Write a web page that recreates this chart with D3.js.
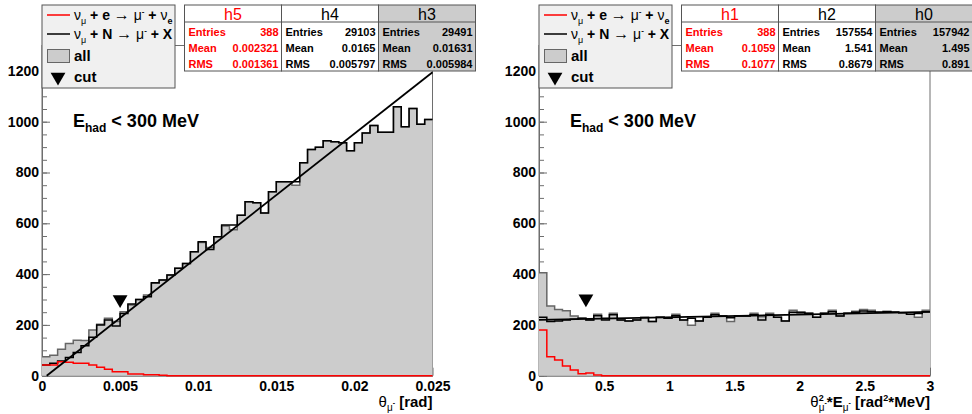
<!DOCTYPE html>
<html>
<head>
<meta charset="utf-8">
<script src="https://cdn.jsdelivr.net/npm/d3@7"></script>
<style>
  body { margin: 0; background: #fff; }
  svg { font-family: "Liberation Sans", Arial, Helvetica, sans-serif; }
</style>
</head>
<body>
<div id="chart"></div>
<script>
// ---- left pad: theta_mu [rad], 50 bins from 0 to 0.025
var thetaRange = [0, 0.025];
var thetaAll = [75, 81, 104, 127, 140, 139, 180, 203, 226, 213,
                252, 278, 300, 318, 364, 377, 396, 423, 442, 488,
                524, 505, 547, 589, 575, 632, 685, 681, 641, 724,
                764, 764, 750, 838, 891, 899, 925, 921, 917, 886,
                917, 956, 985, 958, 958, 1059, 980, 1052, 990, 1009];
var thetaNuN = [42, 49, 58, 72, 91, 118, 151, 200, 219, 196,
                245, 282, 300, 311, 366, 377, 396, 423, 442, 488,
                527, 497, 547, 593, 593, 632, 685, 681, 641, 724,
                764, 764, 764, 838, 891, 899, 925, 921, 917, 886,
                917, 956, 985, 958, 958, 1059, 980, 1052, 990, 1009];
var thetaNuE = [42, 42, 55, 53, 49, 49, 42, 33, 25, 16,
                16, 7, 7, 4, 4, 2, 0, 0, 0, 0,
                0, 0, 0, 0, 0, 0, 0, 0, 0, 0,
                0, 0, 0, 0, 0, 0, 0, 0, 0, 0,
                0, 0, 0, 0, 0, 0, 0, 0, 0, 0];
var thetaFitX = [0.0003, 0.025];
var thetaFitY = [0, 1195];
var thetaCut = [0.005, 300];
var thetaTicks = [0, 0.005, 0.01, 0.015, 0.02, 0.025];
var thetaTickLabels = ['0', '0.005', '0.01', '0.015', '0.02', '0.025'];

// ---- right pad: theta^2 * E_mu [rad^2*MeV], 50 bins from 0 to 3
var q2Range = [0, 3];
var q2All = [405, 274, 261, 256, 235, 226, 219, 242, 226, 246,
             219, 215, 219, 229, 213, 230, 226, 242, 219, 199,
             215, 230, 246, 235, 213, 235, 235, 246, 232, 246,
             230, 215, 258, 252, 246, 230, 246, 258, 235, 246,
             254, 261, 258, 252, 254, 252, 248, 242, 230, 258];
var q2NuN = [230, 213, 215, 219, 222, 226, 219, 236, 219, 240,
             219, 215, 219, 229, 213, 230, 226, 236, 219, 226,
             215, 230, 240, 235, 228, 235, 235, 240, 219, 240,
             230, 215, 250, 248, 246, 230, 246, 252, 235, 246,
             250, 255, 252, 250, 252, 250, 248, 242, 245, 252];
var q2NuE = [180, 75, 62, 38, 22, 8, 11, 3, 0, 0,
             0, 0, 0, 0, 0, 0, 0, 0, 0, 0,
             0, 0, 0, 0, 0, 0, 0, 0, 0, 0,
             0, 0, 0, 0, 0, 0, 0, 0, 0, 0,
             0, 0, 0, 0, 0, 0, 0, 0, 0, 0];
var q2FitX = [0, 3];
var q2FitY = [220, 251];
var q2Cut = [0.36, 303];
var q2Ticks = [0, 0.5, 1, 1.5, 2, 2.5, 3];
var q2TickLabels = ['0', '0.5', '1', '1.5', '2', '2.5', '3'];

var yRange = [0, 1300];
var yTicks = [0, 200, 400, 600, 800, 1000, 1200];

// stat boxes
var statNamesLeft = ['h5', 'h4', 'h3'];
var statEntriesLeft = ['388', '29103', '29491'];
var statMeanLeft = ['0.002321', '0.0165', '0.01631'];
var statRmsLeft = ['0.001361', '0.005797', '0.005984'];
var statNamesRight = ['h1', 'h2', 'h0'];
var statEntriesRight = ['388', '157554', '157942'];
var statMeanRight = ['0.1059', '1.541', '1.495'];
var statRmsRight = ['0.1077', '0.8679', '0.891'];
var statColors = ['#ff0000', '#000000', '#000000'];
var statFills = ['#ffffff', '#ffffff', '#cccccc'];

var svg = d3.select('#chart').append('svg')
  .attr('width', 972).attr('height', 414);

var axisColor = '#6e6e6e';

// text built from pieces: [text, weight, size, dx, dy]
function richText(g, x, y, anchor, parts) {
  var t = g.append('text').attr('x', x).attr('y', y)
    .attr('text-anchor', anchor).attr('fill', '#000');
  parts.forEach(function(p) {
    var s = t.append('tspan').text(p[0])
      .attr('font-weight', p[1]).attr('font-size', p[2]);
    if (p[3]) s.attr('dx', p[3]);
    if (p[4]) s.attr('dy', p[4]);
  });
  return t;
}

function stepPoints(vals, lo, w) {
  var pts = vals.map(function(v, i) { return [lo + i * w, v]; });
  pts.push([lo + vals.length * w, vals[vals.length - 1]]);
  return pts;
}

function styleAxis(a) {
  a.select('.domain').attr('stroke', axisColor);
  a.selectAll('line').attr('stroke', axisColor);
  a.selectAll('text').attr('font-size', 14).attr('font-weight', 'bold')
    .attr('font-family', '"Liberation Sans", Arial, sans-serif').attr('fill', '#000');
}

function drawPane(o) {
  var g = svg.append('g');
  var x = d3.scaleLinear().domain(o.range).range([o.left, o.right]);
  var y = d3.scaleLinear().domain(yRange).range([375.7, 45.5]);
  var w = (o.range[1] - o.range[0]) / o.all.length;

  // frame
  g.append('rect')
    .attr('x', o.left).attr('y', y(yRange[1]))
    .attr('width', o.right - o.left).attr('height', y(0) - y(yRange[1]))
    .attr('fill', 'none').attr('stroke', axisColor).attr('stroke-width', 1);

  // minor y ticks
  g.append('g').attr('transform', 'translate(' + o.left + ',0)')
    .call(d3.axisLeft(y).tickValues(d3.range(0, 1301, 50)).tickSizeInner(-5).tickSizeOuter(0).tickFormat(''))
    .call(function(a) { a.select('.domain').remove(); a.selectAll('line').attr('stroke', axisColor); });
  // major y ticks
  g.append('g').attr('transform', 'translate(' + o.left + ',0)')
    .call(d3.axisLeft(y).tickValues(yTicks).tickFormat(d3.format('d'))
      .tickSizeInner(-8).tickSizeOuter(0).tickPadding(3))
    .call(styleAxis);
  // x axis
  g.append('g').attr('transform', 'translate(0,' + y(0) + ')')
    .call(d3.axisBottom(x).tickValues(o.ticks).tickFormat(function(d, i) { return o.tickLabels[i]; })
      .tickSizeInner(-8).tickSizeOuter(0).tickPadding(5))
    .call(styleAxis);

  var step = d3.line().curve(d3.curveStepAfter)
    .x(function(d) { return x(d[0]); }).y(function(d) { return y(d[1]); });
  var area = d3.area().curve(d3.curveStepAfter)
    .x(function(d) { return x(d[0]); }).y0(y(0)).y1(function(d) { return y(d[1]); });

  // "all" filled gray
  g.append('path').datum(stepPoints(o.all, o.range[0], w))
    .attr('d', area).attr('fill', '#cccccc');
  g.append('path').datum(stepPoints(o.all, o.range[0], w))
    .attr('d', step).attr('fill', 'none').attr('stroke', '#666').attr('stroke-width', 1.5);
  // nu + N
  g.append('path').datum(stepPoints(o.nuN, o.range[0], w))
    .attr('d', step).attr('fill', 'none').attr('stroke', '#000').attr('stroke-width', 1.5);
  // nu + e
  g.append('path').datum(stepPoints(o.nuE, o.range[0], w))
    .attr('d', step).attr('fill', 'none').attr('stroke', '#ff0000').attr('stroke-width', 1.5);
  // fit line
  g.append('path').datum(d3.zip(o.fitX, o.fitY))
    .attr('d', d3.line().x(function(d) { return x(d[0]); }).y(function(d) { return y(d[1]); }))
    .attr('stroke', '#000').attr('stroke-width', 1.8).attr('fill', 'none');
  // cut marker
  g.append('path').attr('d', d3.symbol(d3.symbolTriangle, 95)())
    .attr('transform', 'translate(' + x(o.cut[0]) + ',' + y(o.cut[1]) + ') rotate(180)')
    .attr('fill', '#000');

  // E_had < 300 MeV
  richText(g, o.left + 31, 127, 'start', [
    ['E', 'bold', 18], ['had', 'bold', 12, 0, 5], [' < 300 MeV', 'bold', 18, 0, -5]]);

  // axis title
  richText(g, o.right, 407, 'end', o.title);

  // legend
  var lx = o.left, ly = 5;
  var lg = g.append('g');
  lg.append('rect').attr('x', lx).attr('y', ly).attr('width', 133).attr('height', 83)
    .attr('fill', '#f0f0f0').attr('stroke', '#555').attr('stroke-width', 1);
  lg.append('line').attr('x1', lx + 5).attr('x2', lx + 28).attr('y1', 15).attr('y2', 15)
    .attr('stroke', '#ff0000').attr('stroke-width', 1.5);
  lg.append('line').attr('x1', lx + 5).attr('x2', lx + 28).attr('y1', 34).attr('y2', 34)
    .attr('stroke', '#000').attr('stroke-width', 1.5);
  lg.append('rect').attr('x', lx + 5.5).attr('y', 49.5).attr('width', 22).attr('height', 13)
    .attr('fill', '#cccccc').attr('stroke', '#666').attr('stroke-width', 1);
  lg.append('path').attr('d', d3.symbol(d3.symbolTriangle, 95)())
    .attr('transform', 'translate(' + (lx + 16) + ',77) rotate(180)').attr('fill', '#000');
  richText(lg, lx + 32, 20, 'start', [
    ['\u03bd', 'normal', 14], ['\u03bc', 'normal', 9, 0, 4], [' + e ', 'bold', 14, 0, -4],
    ['\u2192', 'normal', 16], [' \u03bc', 'normal', 14], ['-', 'bold', 8, 0, -6],
    [' + ', 'bold', 14, 0, 6], ['\u03bd', 'normal', 14], ['e', 'bold', 9, 0, 4]]);
  richText(lg, lx + 32, 39, 'start', [
    ['\u03bd', 'normal', 14], ['\u03bc', 'normal', 9, 0, 4], [' + N ', 'bold', 14, 0, -4],
    ['\u2192', 'normal', 16], [' \u03bc', 'normal', 14], ['-', 'bold', 8, 0, -6],
    [' + X', 'bold', 14, 0, 6]]);
  richText(lg, lx + 32, 61, 'start', [['all', 'bold', 15]]);
  richText(lg, lx + 32, 82, 'start', [['cut', 'bold', 15]]);

  // stat boxes
  var sx = o.left + 142.5, bw = 97;
  o.statNames.forEach(function(nm, i) {
    var bx = sx + i * bw;
    var sg = g.append('g');
    sg.append('rect').attr('x', bx).attr('y', 5).attr('width', bw).attr('height', 66)
      .attr('fill', statFills[i]).attr('stroke', '#555').attr('stroke-width', 1);
    sg.append('line').attr('x1', bx).attr('x2', bx + bw).attr('y1', 22).attr('y2', 22)
      .attr('stroke', '#555').attr('stroke-width', 1);
    sg.append('text').attr('x', bx + bw / 2).attr('y', 19.5).attr('text-anchor', 'middle')
      .attr('font-size', 16).attr('fill', statColors[i]).text(nm);
    var rows = [['Entries', o.statEntries[i]], ['Mean', o.statMean[i]], ['RMS', o.statRms[i]]];
    rows.forEach(function(r, j) {
      var by = 35.5 + j * 16.2;
      sg.append('text').attr('x', bx + 4).attr('y', by).attr('font-size', 11)
        .attr('font-weight', 'bold').attr('fill', statColors[i]).text(r[0]);
      sg.append('text').attr('x', bx + bw - 3).attr('y', by).attr('text-anchor', 'end')
        .attr('font-size', 11).attr('font-weight', 'bold').attr('fill', statColors[i]).text(r[1]);
    });
  });
}

drawPane({
  left: 42, right: 432.5, range: thetaRange,
  all: thetaAll, nuN: thetaNuN, nuE: thetaNuE,
  fitX: thetaFitX, fitY: thetaFitY, cut: thetaCut,
  ticks: thetaTicks, tickLabels: thetaTickLabels,
  statNames: statNamesLeft, statEntries: statEntriesLeft, statMean: statMeanLeft, statRms: statRmsLeft,
  title: [['\u03b8', 'normal', 15], ['\u03bc', 'normal', 10, 0, 4], ['-', 'bold', 7, 0, -6],
          [' [rad]', 'bold', 15, 0, 2]]
});

drawPane({
  left: 539, right: 930, range: q2Range,
  all: q2All, nuN: q2NuN, nuE: q2NuE,
  fitX: q2FitX, fitY: q2FitY, cut: q2Cut,
  ticks: q2Ticks, tickLabels: q2TickLabels,
  statNames: statNamesRight, statEntries: statEntriesRight, statMean: statMeanRight, statRms: statRmsRight,
  title: [['\u03b8', 'normal', 15], ['2', 'bold', 9, 0, -6], ['\u03bc', 'normal', 10, -5, 10],
          ['-', 'bold', 7, 0, -6], ['*E', 'bold', 15, 0, 2], ['\u03bc', 'normal', 10, 0, 4],
          ['-', 'bold', 7, 0, -6], [' [rad', 'bold', 15, 0, 2], ['2', 'bold', 9, 0, -6],
          ['*MeV]', 'bold', 15, 0, 6]]
});
</script>
</body>
</html>
